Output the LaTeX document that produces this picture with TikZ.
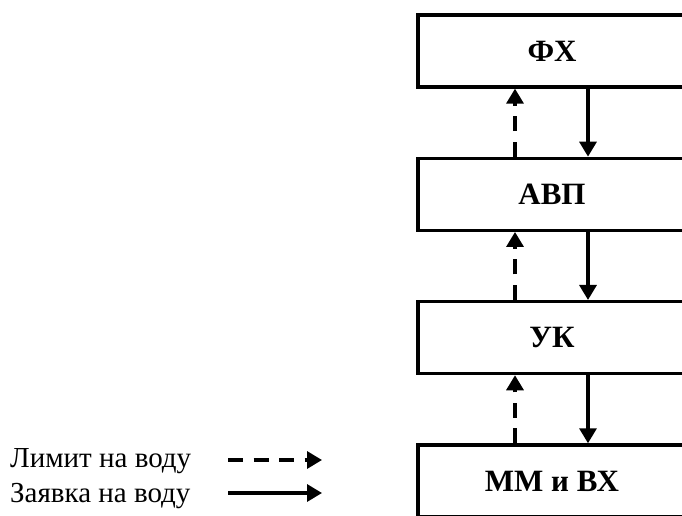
\documentclass[tikz,border=0pt]{standalone}
\usepackage{fontspec}
\setmainfont{Liberation Serif}
\usetikzlibrary{positioning,arrows.meta}
\tikzstyle{scheme} = [x = 1pt, y = -1pt]
\tikzstyle{blockStyle} = [draw, line width=3.3pt, inner sep=0pt, minimum width=268pt, minimum height=72pt, font=\fontsize{31}{36}\selectfont\bfseries]
\tikzstyle{limitArrow} = [line width=3.3pt, dash pattern=on 15pt off 10.5pt, -{Triangle[length=15pt,width=17pt]}]
\tikzstyle{requestArrow} = [line width=3.3pt, -{Triangle[length=15pt,width=17pt]}]
\tikzstyle{legendText} = [font=\fontsize{29}{34}\selectfont, anchor=base west, inner sep=0pt]
\newcommand{\blockLinks}[2]{
  \draw [limitArrow] ([xshift=-37pt]#2.north) -- ([xshift=-37pt]#1.south);
  \draw [requestArrow] ([xshift=36pt]#1.south) -- ([xshift=36pt]#2.north);
}

\begin{document}
\begin{tikzpicture}[scheme]
  \useasboundingbox (0,0) rectangle (682,516);
  \clip (0,0) rectangle (682,516);

  % blocks
  \node [blockStyle] (fx) at (552,51) {ФХ};
  \node [blockStyle, below=68pt of fx] (avp) {АВП};
  \node [blockStyle, below=68pt of avp] (uk) {УК};
  \node [blockStyle, below=68pt of uk] (mmvx) {ММ и ВХ};

  \blockLinks{fx}{avp}
  \blockLinks{avp}{uk}
  \blockLinks{uk}{mmvx}

  % legend
  \node [legendText] (limitText) at (10,467) {Лимит на воду};
  \node [legendText] (requestText) at (10,502) {Заявка на воду};
  \coordinate (limitStart) at (228,460);
  \coordinate (limitEnd) at (322,460);
  \coordinate (requestStart) at (228,493);
  \coordinate (requestEnd) at (322,493);
  \draw [limitArrow] (limitStart) -- (limitEnd);
  \draw [requestArrow] (requestStart) -- (requestEnd);
\end{tikzpicture}
\end{document}
